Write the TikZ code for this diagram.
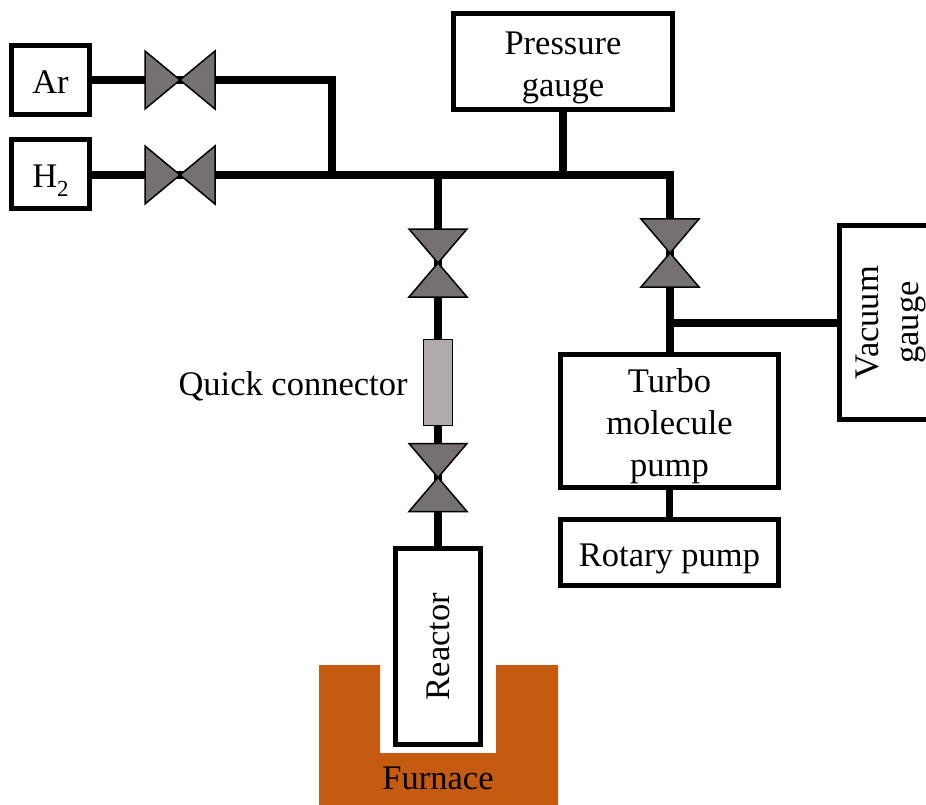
\documentclass[tikz,border=0pt]{standalone}
\usepackage{fontspec}
\setmainfont{Liberation Serif}
\definecolor{valvegray}{HTML}{767171}
\definecolor{connectorgray}{HTML}{AFABAB}
\definecolor{furnaceorange}{HTML}{C55A11}
\newcommand{\hvalve}[1]{\path[valvebody] (#1) -- ++(-35,-29) -- ++(0,58) -- cycle (#1) -- ++(35,-29) -- ++(0,58) -- cycle;}
\newcommand{\vvalve}[1]{\path[valvebody] (#1) -- ++(-29,-34) -- ++(58,0) -- cycle (#1) -- ++(-29,34) -- ++(58,0) -- cycle;}
% text lowered by #1 pt inside its box: a depth smaller by twice that moves the centre up
\newcommand{\lowertext}[2]{\raisebox{0pt}[\height][\dimexpr\depth-#1pt-#1pt\relax]{\begin{tabular}{@{}c@{}}#2\end{tabular}}}
\tikzset{
  labeltext/.style={font=\fontsize{34.5}{42}\selectfont, align=center, text=black},
  unitbox/.style={labeltext, draw=black, line width=5pt, fill=white, inner sep=0pt, outer sep=0pt},
  pipe/.style={draw=black, line width=7.5pt, line join=miter, line cap=butt},
  valvebody/.style={draw=black, line width=1.5pt, fill=valvegray, line join=miter},
  connectorbody/.style={draw=black, line width=1.5pt, fill=connectorgray, inner sep=0pt, outer sep=0pt, minimum width=29pt, minimum height=86pt},
  furnacebody/.style={fill=furnaceorange},
}
\begin{document}
\begin{tikzpicture}[x=1pt,y=-1pt]
\useasboundingbox (0,0) rectangle (926,805);
% furnace
\path[furnacebody] (319,665) -- (380,665) -- (380,753) -- (496,753) -- (496,665) -- (558,665) -- (558,805) -- (319,805) -- cycle;
\node[labeltext] (furnace) at (438,778) {Furnace};
% units
\node[unitbox, minimum width=78pt, minimum height=69pt] (ar) at (50.5,80) {\lowertext{5}{Ar}};
\node[unitbox, minimum width=78pt, minimum height=69pt] (h2) at (50.5,174) {\lowertext{5}{H\raisebox{-0.25em}{\fontsize{23}{23}\selectfont 2}}};
\node[unitbox, minimum width=219pt, minimum height=96pt] (gauge) at (563,61.5) {\lowertext{6}{Pressure\\gauge}};
\node[unitbox, minimum width=218pt, minimum height=133pt] (turbo) at (669.5,421) {\lowertext{5.5}{Turbo\\molecule\\pump}};
\node[unitbox, minimum width=218pt, minimum height=66pt] (rotary) at (669.5,552.5) {\lowertext{5.5}{Rotary pump}};
\node[unitbox, rotate=90, minimum width=194pt, minimum height=99pt] (vacuum) at (889,322.5) {\fontsize{34.5}{40.5}\selectfont\lowertext{1.5}{Vacuum\\gauge}};
\node[unitbox, rotate=90, minimum width=196pt, minimum height=85pt] (reactor) at (438,646.5) {\lowertext{3}{Reactor}};
\node[connectorbody] (quick) at (438,382.5) {};
\node[labeltext] (quicklabel) at (293,386) {Quick connector};
% pipe junctions and valve centres
\coordinate (varg) at (180,80);
\coordinate (vhyd) at (180,175);
\coordinate (corner) at (332,80);
\coordinate (jmix) at (332,175);
\coordinate (jleft) at (438,175);
\coordinate (jgauge) at (563,175);
\coordinate (jright) at (670,175);
\coordinate (vtop) at (438,263);
\coordinate (vbottom) at (438,477.5);
\coordinate (vpump) at (670,253);
\coordinate (jvac) at (670,323);
% pipes
\draw[pipe] (ar.east) -- (varg) -- (corner) -- (jmix);
\draw[pipe] (h2.east |- vhyd) -- (vhyd) -- (jmix) -- (jleft) -- (jgauge) -- (jright) -- (vpump) -- (jvac) -- (turbo.north -| jvac);
\draw[pipe] (gauge.south) -- (jgauge);
\draw[pipe] (jleft) -- (vtop) -- (quick.north);
\draw[pipe] (quick.south) -- (vbottom) -- (reactor.east);
\draw[pipe] (jvac) -- (vacuum.north |- jvac);
\draw[pipe] (turbo.south) -- (rotary.north);
% valves
\hvalve{varg}
\hvalve{vhyd}
\vvalve{vtop}
\vvalve{vbottom}
\vvalve{vpump}
\end{tikzpicture}
\end{document}
